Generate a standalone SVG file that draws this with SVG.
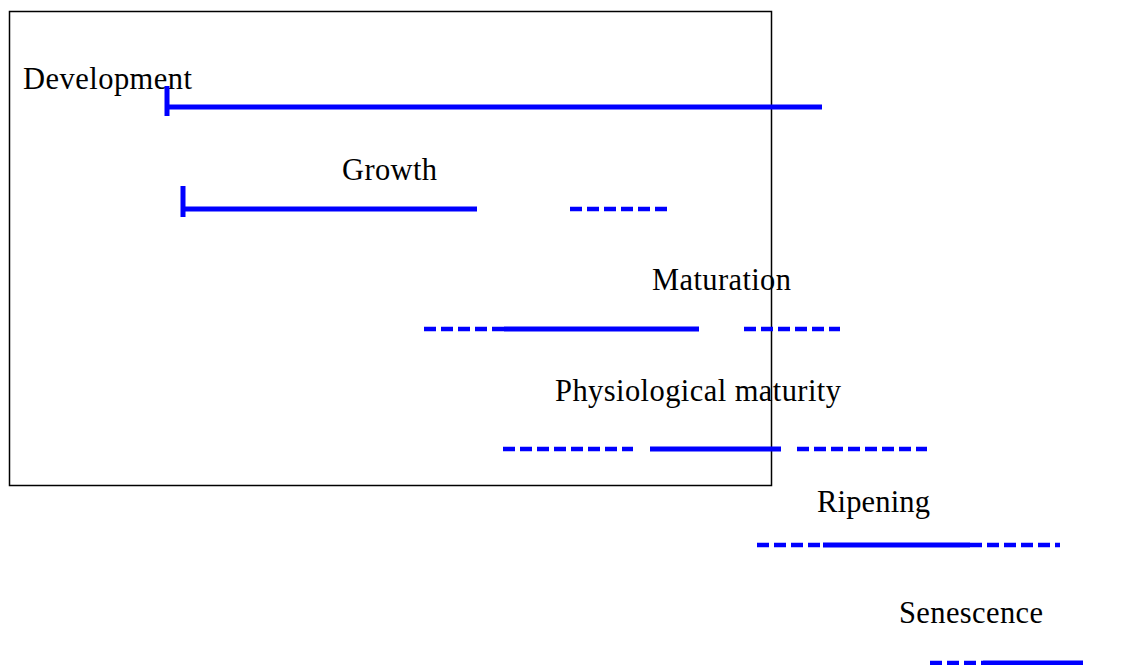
<svg xmlns="http://www.w3.org/2000/svg" width="1123" height="665" viewBox="0 0 1123 665">
<style>
text{font-family:"Liberation Serif","Times New Roman",serif;font-size:30.5px;fill:#000}
.s{stroke:#0000ff;stroke-width:5;fill:none}
.d{stroke:#0000ff;stroke-width:4.5;fill:none;stroke-dasharray:12 5}
</style>
<rect x="9.5" y="11.5" width="762" height="474" fill="none" stroke="#000" stroke-width="1.5"/>
<g id="development">
<text x="23" y="89" textLength="169" lengthAdjust="spacing">Development</text>
</g>
<g id="growth"><text x="342" y="180" textLength="95" lengthAdjust="spacing">Growth</text></g>
<g id="maturation"><text x="652" y="290" textLength="139" lengthAdjust="spacing">Maturation</text></g>
<g id="physiological-maturity"><text x="555" y="401" textLength="286" lengthAdjust="spacing">Physiological maturity</text></g>
<g id="ripening"><text x="817" y="512" textLength="113" lengthAdjust="spacing">Ripening</text></g>
<g id="senescence"><text x="899" y="623" textLength="144" lengthAdjust="spacing">Senescence</text></g>
<g id="connectors">
<line class="s" x1="167" y1="107" x2="822" y2="107"/>
<line class="s" x1="167" y1="86" x2="167" y2="116"/>
<line class="s" x1="183" y1="209" x2="477" y2="209"/>
<line class="s" x1="183" y1="186" x2="183" y2="217"/>
<line class="d" x1="570" y1="209" x2="667" y2="209"/>
<line class="d" x1="424" y1="329" x2="504" y2="329"/>
<line class="s" x1="504" y1="329" x2="699" y2="329"/>
<line class="d" x1="744" y1="329" x2="840" y2="329"/>
<line class="d" x1="503" y1="449" x2="633" y2="449"/>
<line class="s" x1="650" y1="449" x2="781" y2="449"/>
<line class="d" x1="797" y1="449" x2="927" y2="449"/>
<line class="d" x1="757" y1="545" x2="823" y2="545"/>
<line class="s" x1="823" y1="545" x2="970" y2="545"/>
<line class="d" x1="970" y1="545" x2="1060" y2="545"/>
<line class="d" x1="930" y1="663" x2="983" y2="663"/>
<line class="s" x1="983" y1="663" x2="1083" y2="663"/>
</g>
</svg>
